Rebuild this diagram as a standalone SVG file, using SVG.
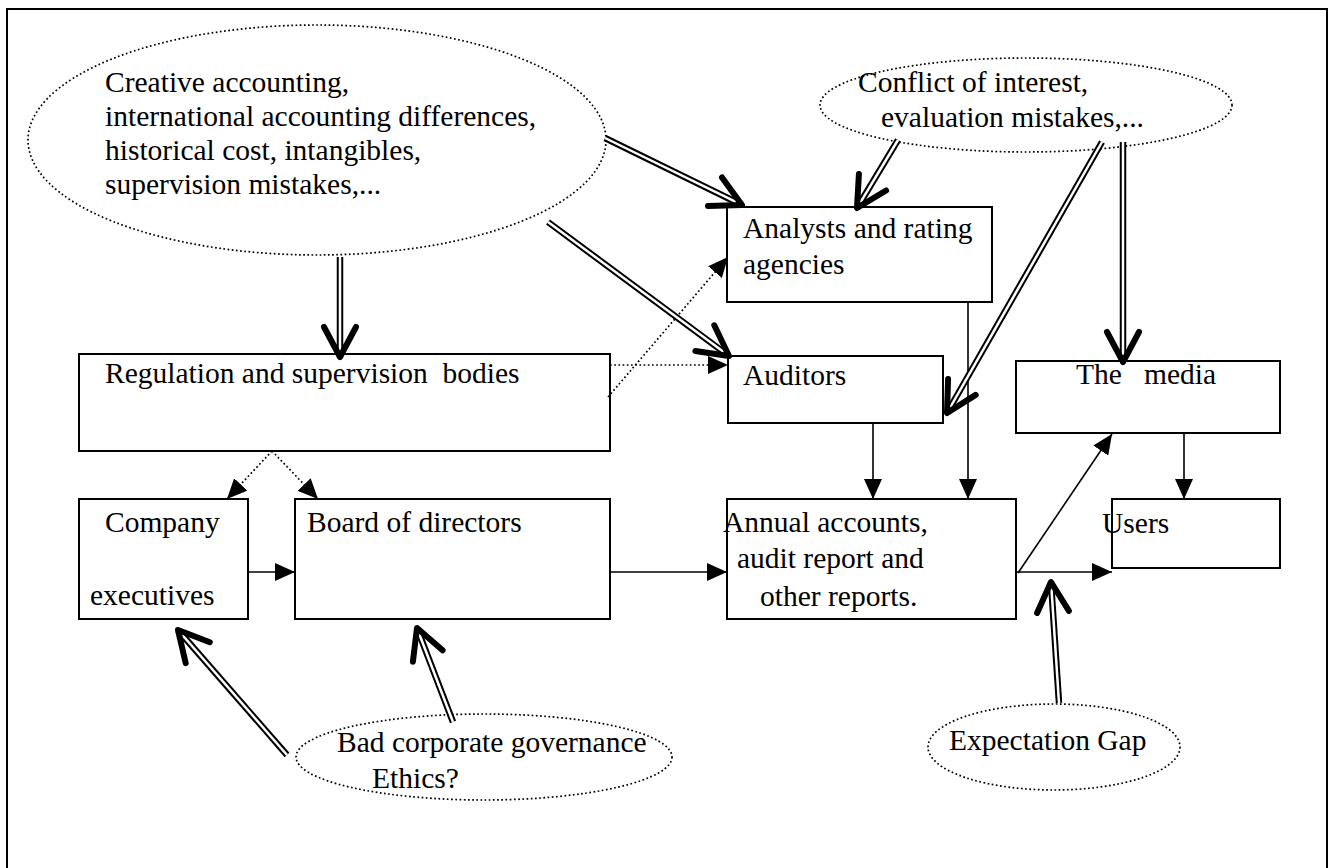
<svg xmlns="http://www.w3.org/2000/svg" width="1330" height="868" viewBox="0 0 1330 868">
<style>
text{font-family:"Liberation Serif","Times New Roman",serif;font-size:29.5px;fill:#000;white-space:pre}
.box{fill:#fff;stroke:#000;stroke-width:2}
.ell{fill:#fff;stroke:#000;stroke-width:1.7;stroke-dasharray:1.7 2.5}
.sol{stroke:#000;stroke-width:1.6;fill:none}
.dot{stroke:#000;stroke-width:1.7;fill:none;stroke-dasharray:1.7 2.5}
.dblo{stroke:#000;stroke-width:6.5;fill:none}
.dbli{stroke:#fff;stroke-width:2.5;fill:none}
.vh{stroke:#000;stroke-width:6;fill:none;stroke-linecap:round;stroke-linejoin:round}
</style>
<defs>
<marker id="ah" viewBox="0 0 20 18" refX="20" refY="9" markerWidth="20" markerHeight="18" markerUnits="userSpaceOnUse" orient="auto">
<path d="M0,0 L20,9 L0,18 Z" fill="#000"/>
</marker>
</defs>
<rect x="7" y="9" width="1320" height="872" fill="#fff" stroke="#000" stroke-width="2"/>

<g id="n-creative">
<ellipse class="ell" cx="317" cy="140" rx="289" ry="115"/>
<text x="105" y="92">Creative accounting,</text>
<text x="105" y="126">international accounting differences,</text>
<text x="105" y="160">historical cost, intangibles,</text>
<text x="105" y="194">supervision mistakes,...</text>
</g>
<g id="n-conflict">
<ellipse class="ell" cx="1026" cy="105" rx="206" ry="47"/>
<text x="858" y="92">Conflict of interest,</text>
<text x="881" y="127">evaluation mistakes,...</text>
</g>
<g id="n-analysts">
<rect class="box" x="727" y="207" width="265" height="95"/>
<text x="743" y="238">Analysts and rating</text>
<text x="743" y="274">agencies</text>
</g>
<g id="n-regulation">
<rect class="box" x="79" y="354" width="531" height="97"/>
<text x="105" y="383">Regulation and supervision  bodies</text>
</g>
<g id="n-auditors">
<rect class="box" x="728" y="356" width="215" height="67"/>
<text x="743" y="385">Auditors</text>
</g>
<g id="n-media">
<rect class="box" x="1016" y="361" width="264" height="72"/>
<text x="1076" y="384">The   media</text>
</g>
<g id="n-company">
<rect class="box" x="79" y="499" width="169" height="120"/>
<text x="105" y="532">Company</text>
<text x="90" y="605">executives</text>
</g>
<g id="n-board">
<rect class="box" x="295" y="499" width="315" height="120"/>
<text x="307" y="532">Board of directors</text>
</g>
<g id="n-annual">
<rect class="box" x="727" y="499" width="289" height="120"/>
<text x="723" y="532">Annual accounts,</text>
<text x="737" y="568">audit report and</text>
<text x="760" y="606">other reports.</text>
</g>
<g id="n-users">
<rect class="box" x="1112" y="499" width="168" height="69"/>
<text x="1102" y="533">Users</text>
</g>
<g id="n-bad">
<ellipse class="ell" cx="484" cy="757" rx="188" ry="43"/>
<text x="337" y="752">Bad corporate governance</text>
<text x="372" y="788">Ethics?</text>
</g>
<g id="n-gap">
<ellipse class="ell" cx="1054" cy="747" rx="126" ry="43"/>
<text x="949" y="750">Expectation Gap</text>
</g>

<g id="connectors">
<line class="sol" x1="248" y1="572" x2="295" y2="572" marker-end="url(#ah)"/>
<line class="sol" x1="610" y1="572" x2="727" y2="572" marker-end="url(#ah)"/>
<line class="sol" x1="1017" y1="572" x2="1112" y2="572" marker-end="url(#ah)"/>
<line class="sol" x1="1018" y1="573" x2="1112" y2="434" marker-end="url(#ah)"/>
<line class="sol" x1="873" y1="423" x2="873" y2="499" marker-end="url(#ah)"/>
<line class="sol" x1="968" y1="302" x2="968" y2="499" marker-end="url(#ah)"/>
<line class="sol" x1="1184" y1="433" x2="1184" y2="499" marker-end="url(#ah)"/>

<line class="dot" x1="610" y1="365" x2="728" y2="365" marker-end="url(#ah)"/>
<line class="dot" x1="608" y1="397" x2="728" y2="257" marker-end="url(#ah)"/>
<line class="dot" x1="272" y1="451" x2="227" y2="499" marker-end="url(#ah)"/>
<line class="dot" x1="272" y1="451" x2="318" y2="499" marker-end="url(#ah)"/>

<line class="dblo" x1="340" y1="257" x2="340" y2="357"/>
<line class="dbli" x1="340" y1="257" x2="340" y2="353"/>
<polyline class="vh" points="324,327 340,357 356,327"/>

<line class="dblo" x1="605" y1="138" x2="742" y2="205"/>
<line class="dbli" x1="605" y1="138" x2="738.4" y2="203.2"/>
<polyline class="vh" points="722,177.5 742,205 708,206"/>

<line class="dblo" x1="548" y1="222" x2="729" y2="356"/>
<line class="dbli" x1="548" y1="222" x2="725.8" y2="353.6"/>
<polyline class="vh" points="714.3,325.3 729,356 695.4,351"/>

<line class="dblo" x1="898" y1="140" x2="857" y2="208"/>
<line class="dbli" x1="898" y1="140" x2="859.1" y2="204.6"/>
<polyline class="vh" points="886.1,190.5 857,208 858.9,174.1"/>

<line class="dblo" x1="1102" y1="142" x2="947" y2="413"/>
<line class="dbli" x1="1102" y1="142" x2="949" y2="409.5"/>
<polyline class="vh" points="975.7,394.9 947,413 948.1,379"/>

<line class="dblo" x1="1123" y1="142" x2="1123" y2="362"/>
<line class="dbli" x1="1123" y1="142" x2="1123" y2="358"/>
<polyline class="vh" points="1107,332 1123,362 1139,332"/>

<line class="dblo" x1="287" y1="755" x2="178" y2="630"/>
<line class="dbli" x1="287" y1="755" x2="180.6" y2="633"/>
<polyline class="vh" points="185.7,663.1 178,630 209.8,642.2"/>

<line class="dblo" x1="453" y1="722" x2="417" y2="628"/>
<line class="dbli" x1="453" y1="722" x2="418.4" y2="631.7"/>
<polyline class="vh" points="412.9,661.7 417,628 442.6,650.3"/>

<line class="dblo" x1="1059" y1="703" x2="1051" y2="582"/>
<line class="dbli" x1="1059" y1="703" x2="1051.3" y2="586"/>
<polyline class="vh" points="1037.1,613 1051,582 1068.9,610.9"/>
</g>
</svg>
